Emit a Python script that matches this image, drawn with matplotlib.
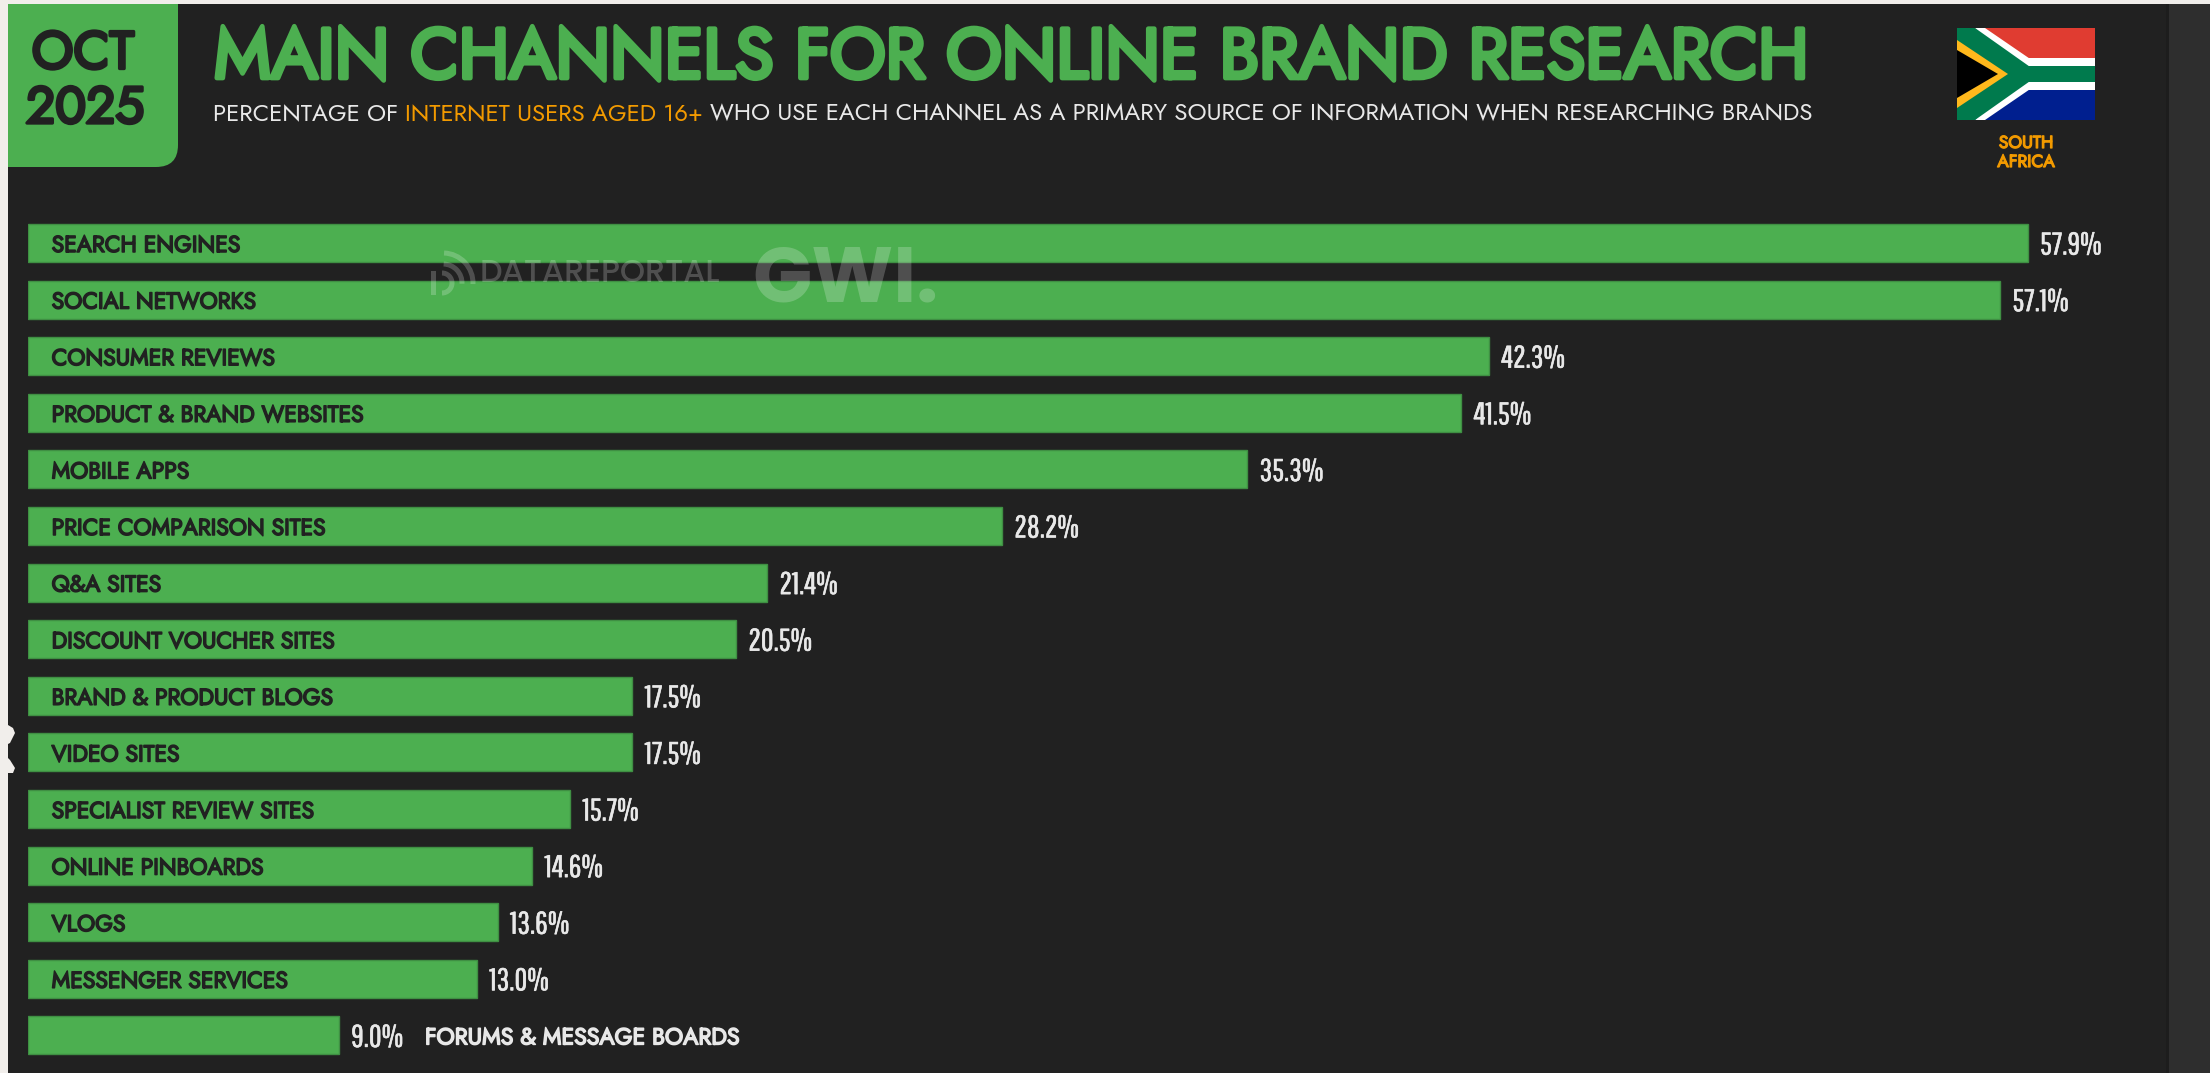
import matplotlib
matplotlib.use("Agg")
import matplotlib.pyplot as plt
import matplotlib.patheffects as pe
from matplotlib.patches import Polygon, Rectangle, PathPatch, Arc
from matplotlib.path import Path

channels = ["SEARCH ENGINES", "SOCIAL NETWORKS", "CONSUMER REVIEWS", "PRODUCT & BRAND WEBSITES",
            "MOBILE APPS", "PRICE COMPARISON SITES", "Q&A SITES", "DISCOUNT VOUCHER SITES",
            "BRAND & PRODUCT BLOGS", "VIDEO SITES", "SPECIALIST REVIEW SITES", "ONLINE PINBOARDS",
            "VLOGS", "MESSENGER SERVICES", "FORUMS & MESSAGE BOARDS"]
shares = [57.9, 57.1, 42.3, 41.5, 35.3, 28.2, 21.4, 20.5, 17.5, 17.5, 15.7, 14.6, 13.6, 13.0, 9.0]
outside_labels = ["FORUMS & MESSAGE BOARDS"]

W, H = 2210, 1073
GREEN = "#4caf50"
DARK = "#212121"
ORANGE = "#f29a00"
LIGHT = "#e8e8e8"
HEAD = ["Jost", "Lato", "DejaVu Sans"]
NARROW = ["Pathway Gothic One", "Roboto", "DejaVu Sans"]
MARK = ["Poppins", "Lato", "DejaVu Sans"]


def bold(width, color):
    # only a regular cut is available, so thicken it with an outline
    return [pe.withStroke(linewidth=width, foreground=color)]


fig = plt.figure(figsize=(W / 100, H / 100), dpi=100, facecolor="#f1eeeb")

# page furniture, in pixel coordinates
bg = fig.add_axes([0, 0, 1, 1])
bg.set_xlim(0, W)
bg.set_ylim(H, 0)
bg.axis("off")
bg.add_patch(Rectangle((8, 4), 2161, H, fc=DARK, ec="none"))
bg.add_patch(Rectangle((2169, 4), W - 2169, H, fc="#2e2e2e", ec="none"))
bg.add_patch(Rectangle((2166, 4), 3, H, fc="#1d1d1d", ec="none"))

# little handle on the left edge
bg.add_patch(Polygon([(8, 725), (13, 728), (15, 733), (10, 743), (8, 744)], fc="#f1eeeb", ec="none"))
bg.add_patch(Polygon([(8, 758), (10, 760), (15, 768), (13, 773), (8, 773)], fc="#f1eeeb", ec="none"))

# date tab with one rounded corner
r = 22
tab = Path([(8, 4), (178, 4), (178, 167 - r), (178, 167), (178 - r, 167), (8, 167), (8, 4)],
           [Path.MOVETO, Path.LINETO, Path.LINETO, Path.CURVE3, Path.CURVE3, Path.LINETO, Path.CLOSEPOLY])
bg.add_patch(PathPatch(tab, fc=GREEN, ec="none"))
bg.text(83, 48, "OCT", family=HEAD, fontsize=38, color=DARK, ha="center", va="center_baseline",
        path_effects=bold(2.4, DARK))
bg.text(85, 103, "2025", family=HEAD, fontsize=37, color=DARK, ha="center", va="center_baseline",
        path_effects=bold(2.4, DARK))

bg.text(214, 78, "MAIN CHANNELS FOR ONLINE BRAND RESEARCH", family=HEAD, fontsize=50.7, color=GREEN,
        ha="left", va="baseline", path_effects=bold(3.4, GREEN))

# subtitle runs in three colours, each placed after the last
x = 213
for part, col in [("PERCENTAGE OF ", LIGHT), ("INTERNET USERS AGED 16+ ", ORANGE),
                  ("WHO USE EACH CHANNEL AS A PRIMARY SOURCE OF INFORMATION WHEN RESEARCHING BRANDS", LIGHT)]:
    t = bg.text(x, 120, part.replace(" ", "\u00a0"), family=HEAD, fontsize=17.33, color=col, ha="left", va="baseline")
    box = t.get_window_extent(fig.canvas.get_renderer())
    x += box.width

# flag
fx0, fx1, fy0, fy1 = 1957, 2095, 28, 120
fw, fh = fx1 - fx0, fy1 - fy0
fmid = (fy0 + fy1) / 2
jx = fx0 + fw * 0.52
bg.add_patch(Polygon([(fx0, fy0), (fx1, fy0), (fx1, fmid), (jx, fmid)], fc="#e03c31", ec="none"))
bg.add_patch(Polygon([(fx0, fy1), (fx1, fy1), (fx1, fmid), (jx, fmid)], fc="#001f8f", ec="none"))
bg.add_patch(Polygon([(fx0 + 18, fy0), (fx0 + 28, fy0), (jx, fy0 + 30), (fx1, fy0 + 30), (fx1, fy1 - 30),
                      (jx, fy1 - 30), (fx0 + 28, fy1), (fx0 + 18, fy1), (jx - 10, fmid)], fc="white", ec="none"))
bg.add_patch(Polygon([(fx0, fy0), (fx0 + 18, fy0), (jx, fy0 + 38), (fx1, fy0 + 38), (fx1, fy1 - 38),
                      (jx, fy1 - 38), (fx0 + 18, fy1), (fx0, fy1)], fc="#007a4d", ec="none"))
bg.add_patch(Polygon([(fx0, fy0 + 12), (fx0 + 51, fmid), (fx0, fy1 - 12)], fc="#ffb81c", ec="none"))
bg.add_patch(Polygon([(fx0, fy0 + 22), (fx0 + 41, fmid), (fx0, fy1 - 22)], fc="black", ec="none"))
bg.text(2026, 148, "SOUTH", family=HEAD, fontsize=12.5, color=ORANGE, ha="center", va="baseline",
        path_effects=bold(0.9, ORANGE))
bg.text(2026, 167, "AFRICA", family=HEAD, fontsize=12.5, color=ORANGE, ha="center", va="baseline",
        path_effects=bold(0.9, ORANGE))

# bars: left edge at px 28, 34.54 px per percentage point, rows 56.6 px apart
ax = fig.add_axes([28 / W, 0, (2169 - 28) / W, 1])
ax.patch.set_alpha(0)
ax.set_xlim(0, (2169 - 28) / 34.54)
ax.set_ylim((H - 243) / 56.6, -243 / 56.6)
ax.axis("off")
rows = range(len(channels))
ax.barh(rows, shares, height=0.672, color=GREEN, edgecolor="#3f8f43", linewidth=1.0)

for i, (name, val) in enumerate(zip(channels, shares)):
    ax.annotate(f"{val:.1f}%", (val, i), xytext=(8.8, 0), textcoords="offset points", family=NARROW,
                fontsize=22.5, color=LIGHT, ha="left", va="center_baseline", path_effects=bold(0.4, LIGHT))
    if name in outside_labels:
        ax.annotate(name, (val, i), xytext=(62, 0), textcoords="offset points", family=HEAD, fontsize=16.6,
                    color=LIGHT, ha="left", va="center_baseline", path_effects=bold(1.1, LIGHT))
    else:
        ax.annotate(name, (0, i), xytext=(17, 0), textcoords="offset points", family=HEAD, fontsize=16.5,
                    color=DARK, ha="left", va="center_baseline", path_effects=bold(1.1, DARK))

# watermark sits on top of everything
top = fig.add_axes([0, 0, 1, 1])
top.set_xlim(0, W)
top.set_ylim(H, 0)
top.axis("off")
top.patch.set_alpha(0)
WM = (1, 1, 1, 0.21)
top.text(480, 282, "DATAREPORTAL", family=MARK, fontsize=23, weight=500, color=WM, ha="left", va="baseline")
top.text(752, 302, "GWI.", family=MARK, fontsize=56, weight=700, color=WM, ha="left", va="baseline")
for rad in (19, 30):
    top.add_patch(Arc((443, 283), rad * 2, rad * 2, theta1=-88, theta2=2, color=WM, lw=3.6))
top.add_patch(Arc((442, 283), 20, 20, theta1=-90, theta2=90, color=WM, lw=3.6))
top.add_patch(Rectangle((431, 271), 5, 24, fc=WM, ec="none"))

fig.savefig("out.png", dpi=100, facecolor=fig.get_facecolor())
